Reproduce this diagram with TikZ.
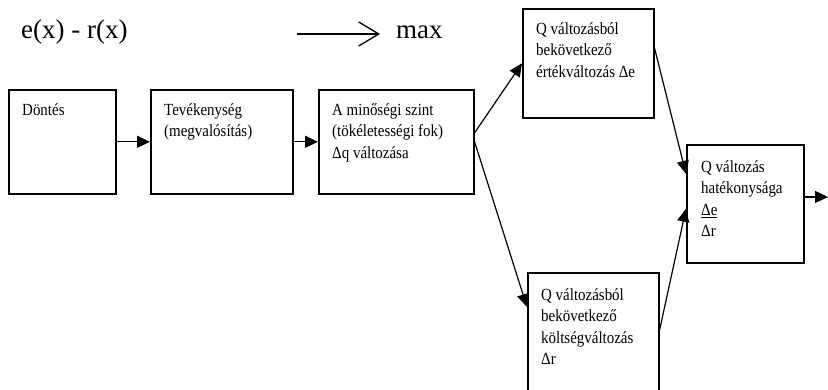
\documentclass[tikz,border=0pt]{standalone}
\usepackage{fontspec}
\setmainfont{Liberation Serif}
\newfontfamily\narrowserif[FakeStretch=0.88]{Liberation Serif}
\usetikzlibrary{arrows.meta}
\newcommand\boxfont[0]{\narrowserif\fontsize{17}{21.5}\selectfont}
\newcommand\topfont[0]{\fontsize{27}{30}\selectfont}

\begin{document}
\begin{tikzpicture}[x=1pt, y=-1pt,
  box/.style={draw, line width=1.6pt, anchor=north west, inner sep=0pt},
  txt/.style={anchor=north west, inner sep=0pt, align=left, font=\boxfont},
  conn/.style={line width=1.2pt, -{Triangle[length=13pt,width=12pt]}}]
\clip (0,0) rectangle (828,390);
% top line
\node[anchor=base west, inner sep=0pt, font=\topfont] (fx) at (21,39) {e(x) - r(x)};
\node[anchor=base west, inner sep=0pt, font=\topfont] (max) at (396,39) {max};
\coordinate (ms) at (297,34);
\coordinate (me) at (380,34);
\draw[line width=1.3pt, -{Straight Barb[length=20pt,width=24pt]}] (ms) -- (me);
% boxes
\node[box, minimum width=107pt, minimum height=104pt] (b1) at (8,89) {};
\node[box, minimum width=142pt, minimum height=104pt] (b2) at (150,89) {};
\node[box, minimum width=155pt, minimum height=104pt] (b3) at (318,89) {};
\node[box, minimum width=131pt, minimum height=109pt] (b4) at (522,8) {};
\node[box, minimum width=117pt, minimum height=118pt] (b5) at (686,144) {};
\node[box, minimum width=131pt, minimum height=130pt] (b6) at (527,272) {};
% texts
\node[txt] (t1) at ([shift={(14,11)}]b1.north west) {\strut Döntés};
\node[txt] (t2) at ([shift={(14,11)}]b2.north west) {\strut Tevékenység\\(megvalósítás)};
\node[txt] (t3) at ([shift={(14,11)}]b3.north west) {\strut A minőségi szint\\(tökéletességi fok)\\Δq változása};
\node[txt] (t4) at ([shift={(14,11)}]b4.north west) {\strut Q változásból\\bekövetkező\\értékváltozás Δe};
\node[txt] (t5) at ([shift={(15,13)}]b5.north west) {\strut Q változás\\hatékonysága\\\underline{Δe}\\Δr};
\node[txt] (t6) at ([shift={(14,13)}]b6.north west) {\strut Q változásból\\bekövetkező\\költségváltozás\\Δr};
% connectors
\coordinate (out) at (828,197);
\draw[conn] (b1) -- (b2);
\draw[conn] (b2) -- (b3);
\draw[conn] ([yshift=9pt]b3.east) -- (b4.west);
\draw[conn] (b3.east) -- ([yshift=-35pt]b6.north west);
\draw[conn] ([yshift=15pt]b4.east) -- ([yshift=30pt]b5.west);
\draw[conn] ([yshift=-58pt]b6.north east) -- ([yshift=-5pt]b5.west);
\draw[conn] (b5.east |- out) -- (out);
\end{tikzpicture}
\end{document}
